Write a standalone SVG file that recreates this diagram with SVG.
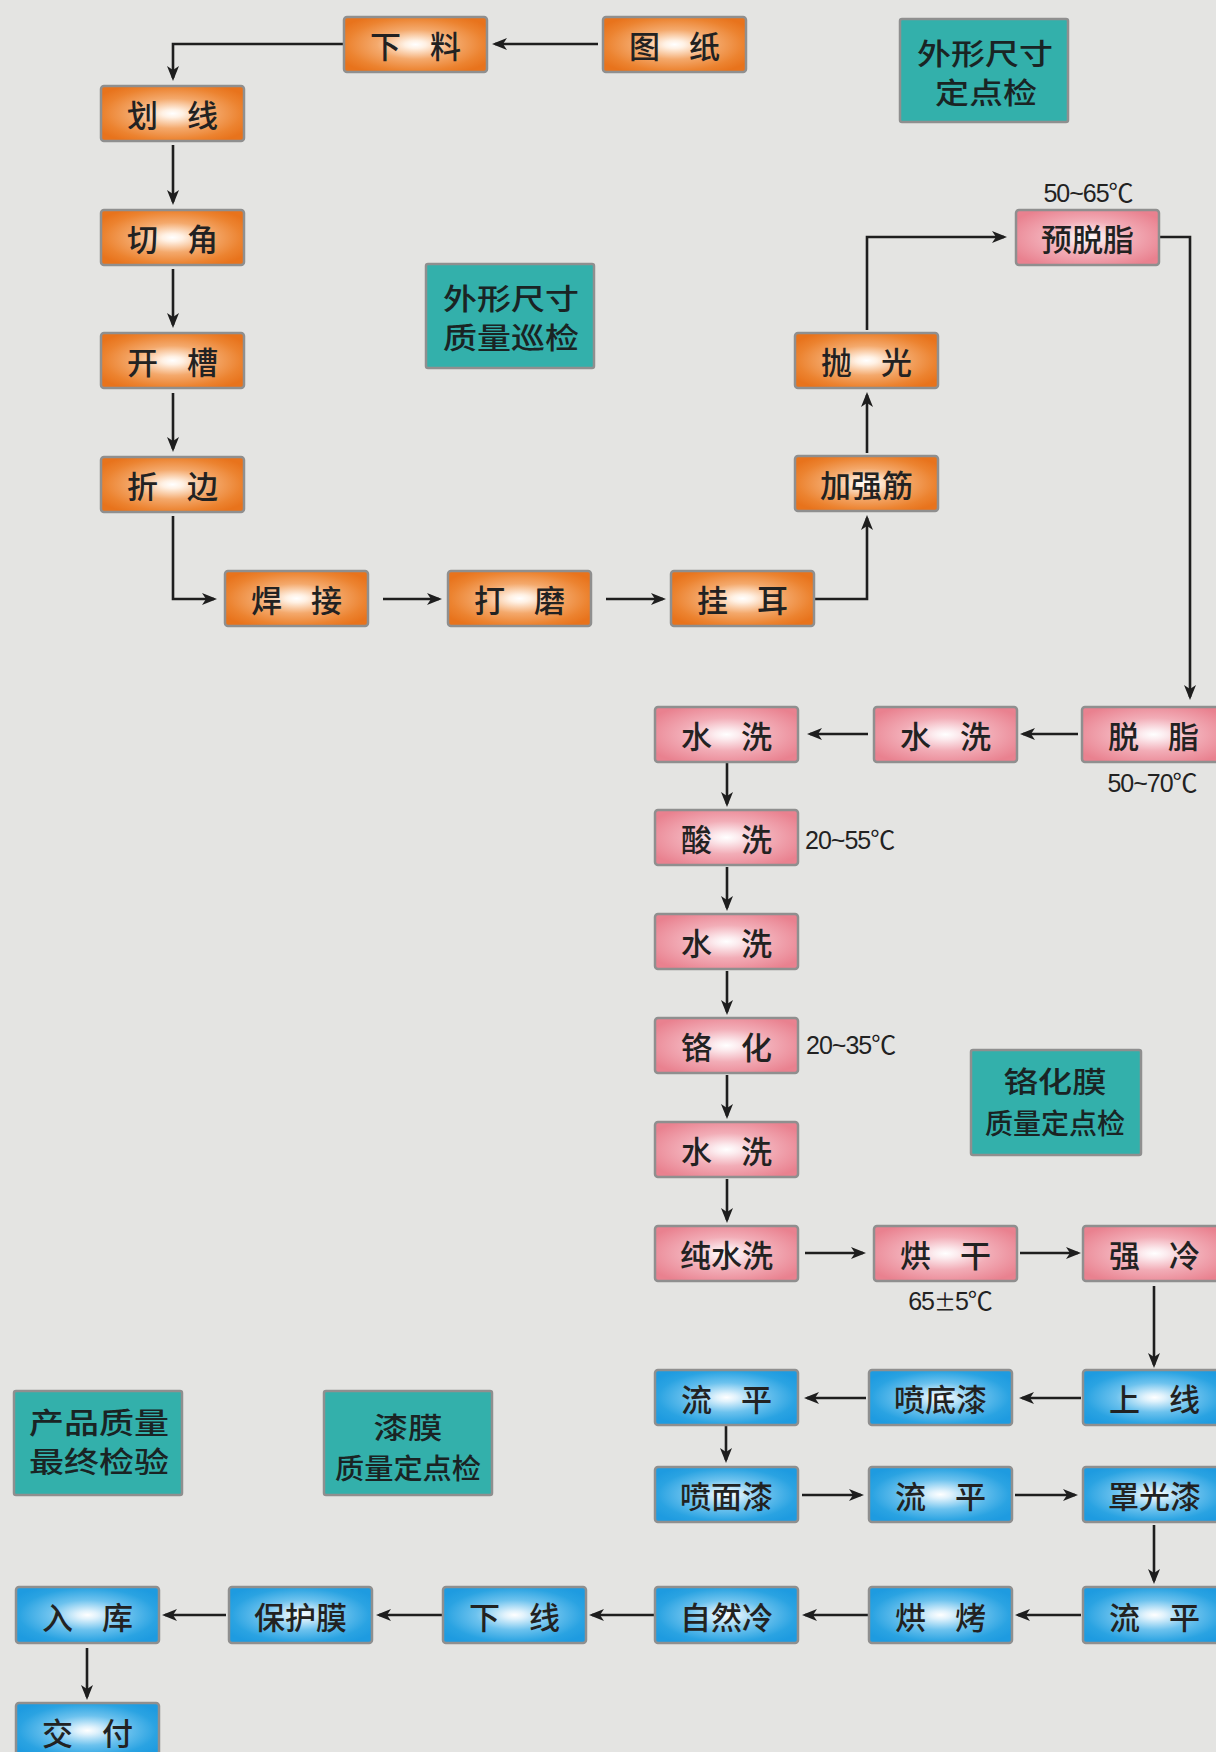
<svg xmlns="http://www.w3.org/2000/svg" width="1216" height="1752" viewBox="0 0 1216 1752">
<defs>
<radialGradient id="gO" cx="0.5" cy="0.5" r="0.6">
<stop offset="0" stop-color="#ffffff"/>
<stop offset="0.12" stop-color="#fff1e4"/>
<stop offset="0.45" stop-color="#f4a96c"/>
<stop offset="0.8" stop-color="#ec8330"/>
<stop offset="1" stop-color="#e8731c"/>
</radialGradient>
<radialGradient id="gP" cx="0.5" cy="0.5" r="0.6">
<stop offset="0" stop-color="#ffffff"/>
<stop offset="0.14" stop-color="#fcecef"/>
<stop offset="0.5" stop-color="#f2adb7"/>
<stop offset="1" stop-color="#e9818f"/>
</radialGradient>
<radialGradient id="gB" cx="0.5" cy="0.5" r="0.6">
<stop offset="0" stop-color="#ffffff"/>
<stop offset="0.12" stop-color="#e0f2fc"/>
<stop offset="0.45" stop-color="#6cc2ee"/>
<stop offset="0.8" stop-color="#2aa3e2"/>
<stop offset="1" stop-color="#1e9be0"/>
</radialGradient>
<marker id="arr" markerUnits="userSpaceOnUse" markerWidth="16" markerHeight="14" refX="12" refY="7" orient="auto">
<path d="M0,1 L15,7 L0,13 L4,7 Z" fill="#1e1e1e"/>
</marker>
</defs>
<style>
.o rect{fill:url(#gO);stroke:#8f8f8f;stroke-width:2.5}
.p rect{fill:url(#gP);stroke:#8f8f8f;stroke-width:2.5}
.b rect{fill:url(#gB);stroke:#8f8f8f;stroke-width:2.5}
.t rect{fill:#33b0ab;stroke:#8f8f8f;stroke-width:2.5}
.n text{font-family:"Noto Sans CJK SC","Noto Sans",sans-serif;font-size:31px;font-weight:500;fill:#222;text-anchor:middle;dominant-baseline:central;word-spacing:22px}
.t text{font-family:"Noto Sans CJK SC","Noto Sans",sans-serif;font-size:29px;font-weight:500;fill:#1a2424;text-anchor:middle;dominant-baseline:central}
.t tspan.s{font-size:28px}
.tmp{font-family:"Liberation Sans","Noto Sans CJK SC",sans-serif;font-size:25px;fill:#222;letter-spacing:-1px}
.cjk{font-family:"Noto Sans CJK SC",sans-serif;font-size:22px}
#connectors path{fill:none;stroke:#1e1e1e;stroke-width:2.6;marker-end:url(#arr)}
</style>
<rect width="1216" height="1752" fill="#e4e4e2"/>

<g id="connectors">
<path d="M598,44 H495"/>
<path d="M343,44 H173 V78"/>
<path d="M173,145 V202"/>
<path d="M173,269 V325"/>
<path d="M173,393 V449"/>
<path d="M173,516 V599 H214"/>
<path d="M383,599 H439"/>
<path d="M606,599 H663"/>
<path d="M815,599 H867 V518"/>
<path d="M867,453 V395"/>
<path d="M867,330 V237 H1004"/>
<path d="M1160,237 H1190 V697"/>
<path d="M1078,734 H1023"/>
<path d="M868,734 H810"/>
<path d="M727,763 V804"/>
<path d="M727,867 V908"/>
<path d="M727,971 V1012"/>
<path d="M727,1075 V1116"/>
<path d="M727,1179 V1220"/>
<path d="M805,1253 H863"/>
<path d="M1020,1253 H1078"/>
<path d="M1154,1286 V1365"/>
<path d="M1081,1398 H1022"/>
<path d="M866,1398 H807"/>
<path d="M726,1426 V1460"/>
<path d="M802,1495 H861"/>
<path d="M1015,1495 H1075"/>
<path d="M1154,1525 V1581"/>
<path d="M1081,1615 H1018"/>
<path d="M868,1615 H805"/>
<path d="M655,1615 H592"/>
<path d="M442,1615 H379"/>
<path d="M226,1615 H165"/>
<path d="M87,1648 V1697"/>
</g>

<g id="n-tuzhi" class="n o"><rect x="603" y="17" width="143" height="55" rx="3"/><text x="674.5" y="44.5">图 纸</text></g>
<g id="n-xialiao" class="n o"><rect x="344" y="17" width="143" height="55" rx="3"/><text x="415.5" y="44.5">下 料</text></g>
<g id="n-huaxian" class="n o"><rect x="101" y="86" width="143" height="55" rx="3"/><text x="172.5" y="113.5">划 线</text></g>
<g id="n-qiejiao" class="n o"><rect x="101" y="210" width="143" height="55" rx="3"/><text x="172.5" y="237.5">切 角</text></g>
<g id="n-kaicao" class="n o"><rect x="101" y="333" width="143" height="55" rx="3"/><text x="172.5" y="360.5">开 槽</text></g>
<g id="n-zhebian" class="n o"><rect x="101" y="457" width="143" height="55" rx="3"/><text x="172.5" y="484.5">折 边</text></g>
<g id="n-hanjie" class="n o"><rect x="225" y="571" width="143" height="55" rx="3"/><text x="296.5" y="598.5">焊 接</text></g>
<g id="n-damo" class="n o"><rect x="448" y="571" width="143" height="55" rx="3"/><text x="519.5" y="598.5">打 磨</text></g>
<g id="n-guaer" class="n o"><rect x="671" y="571" width="143" height="55" rx="3"/><text x="742.5" y="598.5">挂 耳</text></g>
<g id="n-jiaqiangjin" class="n o"><rect x="795" y="456" width="143" height="55" rx="3"/><text x="866.5" y="483.5">加强筋</text></g>
<g id="n-paoguang" class="n o"><rect x="795" y="333" width="143" height="55" rx="3"/><text x="866.5" y="360.5">抛 光</text></g>

<g id="n-yutuozhi" class="n p"><rect x="1016" y="210" width="143" height="55" rx="3"/><text x="1087.5" y="237.5">预脱脂</text></g>
<g id="n-tuozhi" class="n p"><rect x="1082" y="707" width="143" height="55" rx="3"/><text x="1153.5" y="734.5">脱 脂</text></g>
<g id="n-shuixi1" class="n p"><rect x="874" y="707" width="143" height="55" rx="3"/><text x="945.5" y="734.5">水 洗</text></g>
<g id="n-shuixi2" class="n p"><rect x="655" y="707" width="143" height="55" rx="3"/><text x="726.5" y="734.5">水 洗</text></g>
<g id="n-suanxi" class="n p"><rect x="655" y="810" width="143" height="55" rx="3"/><text x="726.5" y="837.5">酸 洗</text></g>
<g id="n-shuixi3" class="n p"><rect x="655" y="914" width="143" height="55" rx="3"/><text x="726.5" y="941.5">水 洗</text></g>
<g id="n-gehua" class="n p"><rect x="655" y="1018" width="143" height="55" rx="3"/><text x="726.5" y="1045.5">铬 化</text></g>
<g id="n-shuixi4" class="n p"><rect x="655" y="1122" width="143" height="55" rx="3"/><text x="726.5" y="1149.5">水 洗</text></g>
<g id="n-chunshuixi" class="n p"><rect x="655" y="1226" width="143" height="55" rx="3"/><text x="726.5" y="1253.5">纯水洗</text></g>
<g id="n-honggan" class="n p"><rect x="874" y="1226" width="143" height="55" rx="3"/><text x="945.5" y="1253.5">烘 干</text></g>
<g id="n-qiangleng" class="n p"><rect x="1083" y="1226" width="143" height="55" rx="3"/><text x="1154.5" y="1253.5">强 冷</text></g>

<g id="n-shangxian" class="n b"><rect x="1083" y="1370" width="143" height="55" rx="3"/><text x="1154.5" y="1397.5">上 线</text></g>
<g id="n-pendiqi" class="n b"><rect x="869" y="1370" width="143" height="55" rx="3"/><text x="940.5" y="1397.5">喷底漆</text></g>
<g id="n-liuping1" class="n b"><rect x="655" y="1370" width="143" height="55" rx="3"/><text x="726.5" y="1397.5">流 平</text></g>
<g id="n-penmianqi" class="n b"><rect x="655" y="1467" width="143" height="55" rx="3"/><text x="726.5" y="1494.5">喷面漆</text></g>
<g id="n-liuping2" class="n b"><rect x="869" y="1467" width="143" height="55" rx="3"/><text x="940.5" y="1494.5">流 平</text></g>
<g id="n-zhaoguangqi" class="n b"><rect x="1083" y="1467" width="143" height="55" rx="3"/><text x="1154.5" y="1494.5">罩光漆</text></g>
<g id="n-liuping3" class="n b"><rect x="1083" y="1587" width="143" height="56" rx="3"/><text x="1154.5" y="1615">流 平</text></g>
<g id="n-hongkao" class="n b"><rect x="869" y="1587" width="143" height="56" rx="3"/><text x="940.5" y="1615">烘 烤</text></g>
<g id="n-ziranleng" class="n b"><rect x="655" y="1587" width="143" height="56" rx="3"/><text x="726.5" y="1615">自然冷</text></g>
<g id="n-xiaxian" class="n b"><rect x="443" y="1587" width="143" height="56" rx="3"/><text x="514.5" y="1615">下 线</text></g>
<g id="n-baohumo" class="n b"><rect x="229" y="1587" width="143" height="56" rx="3"/><text x="300.5" y="1615">保护膜</text></g>
<g id="n-ruku" class="n b"><rect x="16" y="1587" width="143" height="56" rx="3"/><text x="87.5" y="1615">入 库</text></g>
<g id="n-jiaofu" class="n b"><rect x="16" y="1703" width="143" height="55" rx="3"/><text x="87.5" y="1731">交 付</text></g>

<g id="q-waixing-dingdian" class="t"><rect x="900" y="19" width="168" height="103" rx="2"/><text><tspan x="985" y="52" textLength="136" lengthAdjust="spacingAndGlyphs">外形尺寸</tspan><tspan x="986" y="91" textLength="102" lengthAdjust="spacingAndGlyphs">定点检</tspan></text></g>
<g id="q-waixing-xunjian" class="t"><rect x="426" y="264" width="168" height="104" rx="2"/><text><tspan x="511" y="297" textLength="136" lengthAdjust="spacingAndGlyphs">外形尺寸</tspan><tspan x="511" y="336" textLength="136" lengthAdjust="spacingAndGlyphs">质量巡检</tspan></text></g>
<g id="q-gehuamo" class="t"><rect x="971" y="1050" width="170" height="105" rx="2"/><text><tspan x="1055" y="1080" textLength="103" lengthAdjust="spacingAndGlyphs">铬化膜</tspan><tspan class="s" x="1055" y="1122" textLength="140" lengthAdjust="spacingAndGlyphs">质量定点检</tspan></text></g>
<g id="q-chanpin" class="t"><rect x="14" y="1391" width="168" height="104" rx="2"/><text><tspan x="99" y="1421" textLength="140" lengthAdjust="spacingAndGlyphs">产品质量</tspan><tspan x="99" y="1460" textLength="140" lengthAdjust="spacingAndGlyphs">最终检验</tspan></text></g>
<g id="q-qimo" class="t"><rect x="324" y="1391" width="168" height="104" rx="2"/><text><tspan x="408" y="1426" textLength="69" lengthAdjust="spacingAndGlyphs">漆膜</tspan><tspan class="s" x="408" y="1467" textLength="146" lengthAdjust="spacingAndGlyphs">质量定点检</tspan></text></g>

<g id="temps">
<text class="tmp" x="1088" y="202" text-anchor="middle">50~65℃</text>
<text class="tmp" x="1152" y="792" text-anchor="middle">50~70℃</text>
<text class="tmp" x="805" y="849">20~55℃</text>
<text class="tmp" x="806" y="1054">20~35℃</text>
<text class="tmp" x="950" y="1310" text-anchor="middle">65<tspan class="cjk">±</tspan>5℃</text>
</g>
</svg>
